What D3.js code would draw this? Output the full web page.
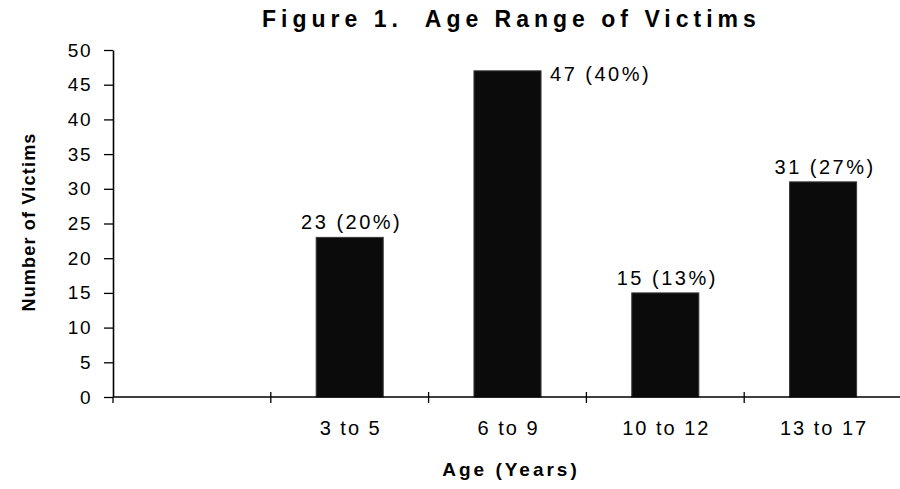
<!DOCTYPE html>
<html>
<head>
<meta charset="utf-8">
<script src="https://cdn.jsdelivr.net/npm/d3@7/dist/d3.min.js"></script>
<style>
  html, body { margin: 0; padding: 0; background: #fff; }
  svg { display: block; font-family: Arial, "Liberation Sans", Helvetica, sans-serif; }
</style>
</head>
<body>
<svg id="chart" width="900" height="489"></svg>
<script>
const categories = ["", "3 to 5", "6 to 9", "10 to 12", "13 to 17"];
const victims = [null, 23, 47, 15, 31];
const percents = [null, 20, 40, 13, 27];
const yTicks = [0, 5, 10, 15, 20, 25, 30, 35, 40, 45, 50];
const titleText = "Figure 1.  Age Range of Victims";
const xTitle = "Age (Years)";
const yTitle = "Number of Victims";

const svg = d3.select("#chart");
const W = 900, H = 489;
const plot = { left: 113, right: 902, top: 50, bottom: 397 };

const x = d3.scaleBand().domain(categories).range([plot.left, plot.right]).paddingInner(0).paddingOuter(0);
const y = d3.scaleLinear().domain([0, 50]).range([plot.bottom, plot.top]);
const barW = x.bandwidth() * 0.425;

const data = categories.map((c, i) => ({ cat: c, v: victims[i], p: percents[i] }));

// Title
svg.append("text")
  .attr("x", 262).attr("y", 27)
  .attr("font-size", 23).attr("font-weight", "bold")
  .attr("letter-spacing", 5)
  .attr("fill", "#000")
  .style("white-space", "pre")
  .attr("xml:space", "preserve")
  .text(titleText);

// Y axis
const yAxis = d3.axisLeft(y).tickValues(yTicks).tickSize(9).tickSizeOuter(0).tickPadding(12);
const gy = svg.append("g").attr("transform", `translate(${plot.left},0)`).call(yAxis);
gy.select(".domain").attr("stroke", "#000").attr("stroke-width", 1.6);
gy.selectAll(".tick line").attr("stroke", "#000").attr("stroke-width", 1.3);
gy.selectAll(".tick text")
  .attr("font-size", 19).attr("fill", "#000")
  .attr("letter-spacing", 1.5)
  .attr("font-family", "Arial, 'Liberation Sans', sans-serif");

// Bars
svg.append("g").selectAll("rect")
  .data(data.filter(d => d.v != null))
  .join("rect")
  .attr("x", d => x(d.cat) + (x.bandwidth() - barW) / 2)
  .attr("y", d => y(d.v))
  .attr("width", barW)
  .attr("height", d => y(0) - y(d.v))
  .attr("fill", "#0b0b0b")
  .attr("stroke", "#3a3a3a")
  .attr("stroke-width", 1);

// X axis line
svg.append("line")
  .attr("x1", plot.left).attr("x2", W)
  .attr("y1", y(0)).attr("y2", y(0))
  .attr("stroke", "#000").attr("stroke-width", 1.6);

// X boundary ticks
const boundaries = categories.map(c => x(c));
svg.append("g").selectAll("line")
  .data(boundaries)
  .join("line")
  .attr("x1", d => d).attr("x2", d => d)
  .attr("y1", (d, i) => i === 0 ? y(0) : y(0) - 5)
  .attr("y2", y(0) + 6)
  .attr("stroke", "#000").attr("stroke-width", 1.3);

// X category labels
svg.append("g").selectAll("text")
  .data(categories.filter(c => c !== ""))
  .join("text")
  .attr("x", d => x(d) + x.bandwidth() / 2 + 1)
  .attr("y", y(0) + 38)
  .attr("text-anchor", "middle")
  .attr("font-size", 20)
  .attr("letter-spacing", 2)
  .attr("fill", "#000")
  .text(d => d);

// Value labels
svg.append("g").selectAll("text")
  .data(data.filter(d => d.v != null))
  .join("text")
  .attr("x", d => d.v > 45 ? x(d.cat) + (x.bandwidth() + barW) / 2 + 9 : x(d.cat) + x.bandwidth() / 2 + 2)
  .attr("y", d => d.v > 45 ? y(d.v) + 10 : y(d.v) - 8)
  .attr("text-anchor", d => d.v > 45 ? "start" : "middle")
  .attr("font-size", 20)
  .attr("letter-spacing", 2.5)
  .attr("fill", "#000")
  .text(d => `${d.v} (${d.p}%)`);

// Axis titles
svg.append("text")
  .attr("x", 511).attr("y", 476)
  .attr("text-anchor", "middle")
  .attr("font-size", 19).attr("font-weight", "bold")
  .attr("letter-spacing", 3)
  .attr("fill", "#000")
  .text(xTitle);

svg.append("text")
  .attr("transform", "translate(35,222) rotate(-90)")
  .attr("text-anchor", "middle")
  .attr("font-size", 18).attr("font-weight", "bold")
  .attr("letter-spacing", 1.2)
  .attr("fill", "#000")
  .text(yTitle);
</script>
</body>
</html>
